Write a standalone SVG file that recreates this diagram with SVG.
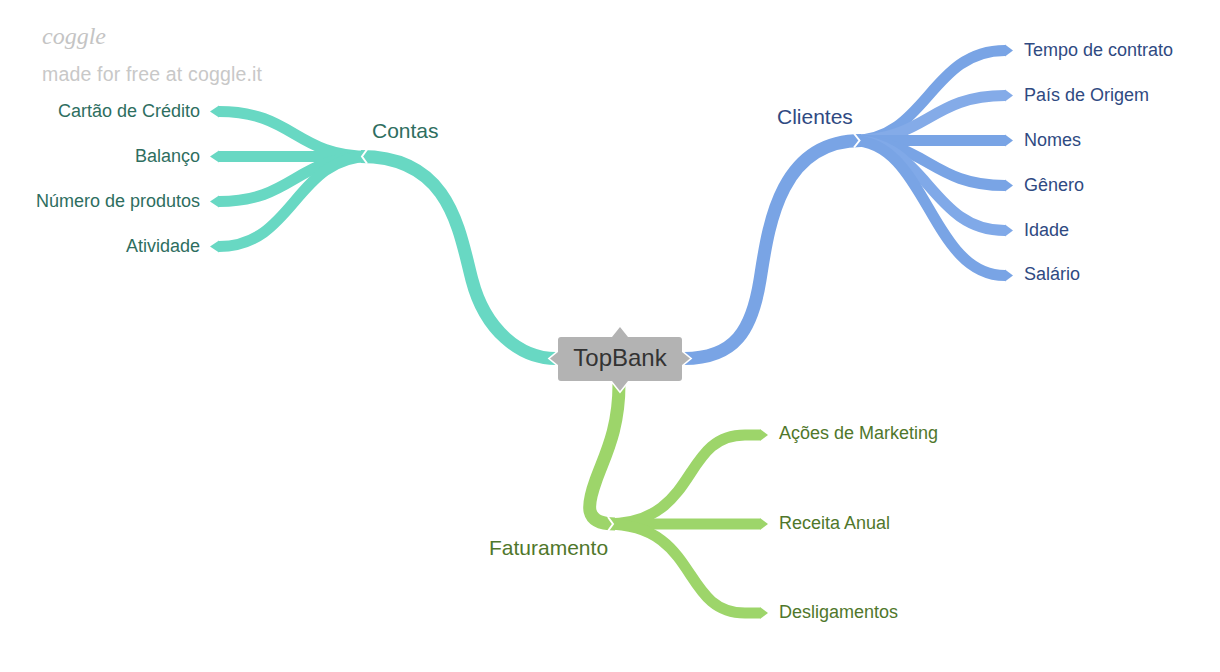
<svg xmlns="http://www.w3.org/2000/svg" width="1220" height="672" viewBox="0 0 1220 672">
<style>
  .br { fill: none; stroke-linecap: butt; stroke-linejoin: round; }
  .teal { stroke: #68d8c3; }
  .blue { stroke: #79a4e5; }
  .green { stroke: #9dd56a; }
  .main { stroke-width: 13; }
  .child { stroke-width: 11; }
  .tipT { fill: #68d8c3; }
  .tipB { fill: #79a4e5; }
  .tipG { fill: #9dd56a; }
  .chev { fill: none; stroke: #ffffff; stroke-width: 2; stroke-linejoin: miter; }
  .lbl { font-family: "Liberation Sans", Arial, sans-serif; font-size: 18px; }
  .mlbl { font-family: "Liberation Sans", Arial, sans-serif; font-size: 21px; }
  .tT { fill: #2e6e5f; }
  .tB { fill: #2f4a82; }
  .tG { fill: #50772b; }
</style>

<g id="watermark">
  <text x="42" y="44" font-family="Liberation Serif, serif" font-style="italic" font-size="24" fill="#c4c4c4">coggle</text>
  <text x="42" y="80.5" font-family="Liberation Sans, Arial, sans-serif" font-size="19.5" fill="#c8c8c8" textLength="220" lengthAdjust="spacing">made for free at coggle.it</text>
</g>

<g id="connectors">
  <!-- Contas children -->
  <path class="br teal child" d="M370,156.5 C 295,156.5 294,111.5 219,111.5"/>
  <path class="br teal child" d="M370,156.5 L 219,156.5"/>
  <path class="br teal child" d="M370,156.5 C 295,156.5 294,201.5 219,201.5"/>
  <path class="br teal child" d="M370,156.5 C 295,156.5 294,246.5 219,246.5"/>
  <polygon class="tipT" points="219,105.5 210,111.5 219,117.5"/>
  <polygon class="tipT" points="219,150.5 210,156.5 219,162.5"/>
  <polygon class="tipT" points="219,195.5 210,201.5 219,207.5"/>
  <polygon class="tipT" points="219,240.5 210,246.5 219,252.5"/>
  <!-- Contas main -->
  <path class="br teal main" d="M556,358.5 C 520,358.5 485,330 472,280 C 459,230 450,156.5 361,156.5"/>
  <polyline class="chev" points="367,149.5 362,156.5 367,163.5"/>

  <!-- Clientes children -->
  <path class="br blue child" d="M852,140.5 C 927,140.5 930,50.5 1005,50.5"/>
  <path class="br child" stroke="#84abe8" d="M852,140.5 C 927,140.5 930,95.5 1005,95.5"/>
  <path class="br blue child" d="M852,140.5 L 1005,140.5"/>
  <path class="br blue child" d="M852,140.5 C 927,140.5 930,185.5 1005,185.5"/>
  <path class="br child" stroke="#80a9e8" d="M852,140.5 C 927,140.5 930,230.5 1005,230.5"/>
  <path class="br blue child" d="M852,140.5 C 927,140.5 930,275.5 1005,275.5"/>
  <polygon class="tipB" points="1005,44.5 1013,50.5 1005,56.5"/>
  <polygon fill="#84abe8" points="1005,89.5 1013,95.5 1005,101.5"/>
  <polygon class="tipB" points="1005,134.5 1013,140.5 1005,146.5"/>
  <polygon class="tipB" points="1005,179.5 1013,185.5 1005,191.5"/>
  <polygon fill="#80a9e8" points="1005,224.5 1013,230.5 1005,236.5"/>
  <polygon class="tipB" points="1005,269.5 1013,275.5 1005,281.5"/>
  <!-- Clientes main -->
  <path class="br blue main" d="M684,358.5 C 735,358.5 752,330 760,280 C 768,230 778,140.5 861,140.5"/>
  <polyline class="chev" points="854,133.5 859.5,140.5 854,147.5"/>

  <!-- Faturamento children -->
  <path class="br green child" d="M606,524 C 700,524 680,435 745,435 L 760,435"/>
  <path class="br green child" d="M606,524 L 760,524"/>
  <path class="br green child" d="M606,524 C 700,524 680,613 745,613 L 760,613"/>
  <polygon class="tipG" points="760,429 768,435 760,441"/>
  <polygon class="tipG" points="760,518 768,524 760,530"/>
  <polygon class="tipG" points="760,607 768,613 760,619"/>
  <!-- Faturamento main -->
  <path class="br green main" d="M619,384 C 619,430 605,455 596,480 C 587,505 583,524 615,524"/>
  <polyline class="chev" points="608,517 613,524 608,531"/>
</g>

<g id="node-topbank">
  <path d="M561,337 H612 L620,327 L628,337 H679 Q682,337 682,340 V352 L690,358.5 L682,365 V378 Q682,381 679,381 H628 L620,391 L612,381 H561 Q558,381 558,378 V365 L550,358.5 L558,352 V340 Q558,337 561,337 Z" fill="#b3b3b3" stroke="#ffffff" stroke-width="3" paint-order="stroke" stroke-linejoin="miter"/>
  <text x="620" y="366" text-anchor="middle" font-family="Liberation Sans, Arial, sans-serif" font-size="24" fill="#333333">TopBank</text>
</g>

<g id="node-contas"><text class="mlbl tT" x="372" y="138">Contas</text></g>
<g id="node-cartao"><text class="lbl tT" x="200" y="117" text-anchor="end">Cartão de Crédito</text></g>
<g id="node-balanco"><text class="lbl tT" x="200" y="162" text-anchor="end">Balanço</text></g>
<g id="node-numero"><text class="lbl tT" x="200" y="207" text-anchor="end">Número de produtos</text></g>
<g id="node-atividade"><text class="lbl tT" x="200" y="252" text-anchor="end">Atividade</text></g>

<g id="node-clientes"><text class="mlbl tB" x="777" y="124">Clientes</text></g>
<g id="node-tempo"><text class="lbl tB" x="1024" y="55.5">Tempo de contrato</text></g>
<g id="node-pais"><text class="lbl tB" x="1024" y="100.5">País de Origem</text></g>
<g id="node-nomes"><text class="lbl tB" x="1024" y="145.5">Nomes</text></g>
<g id="node-genero"><text class="lbl tB" x="1024" y="190.5">Gênero</text></g>
<g id="node-idade"><text class="lbl tB" x="1024" y="235.5">Idade</text></g>
<g id="node-salario"><text class="lbl tB" x="1024" y="280">Salário</text></g>

<g id="node-faturamento"><text class="mlbl tG" x="489" y="555">Faturamento</text></g>
<g id="node-acoes"><text class="lbl tG" x="779" y="439">Ações de Marketing</text></g>
<g id="node-receita"><text class="lbl tG" x="779" y="528.5">Receita Anual</text></g>
<g id="node-desligamentos"><text class="lbl tG" x="779" y="617.5">Desligamentos</text></g>
</svg>
